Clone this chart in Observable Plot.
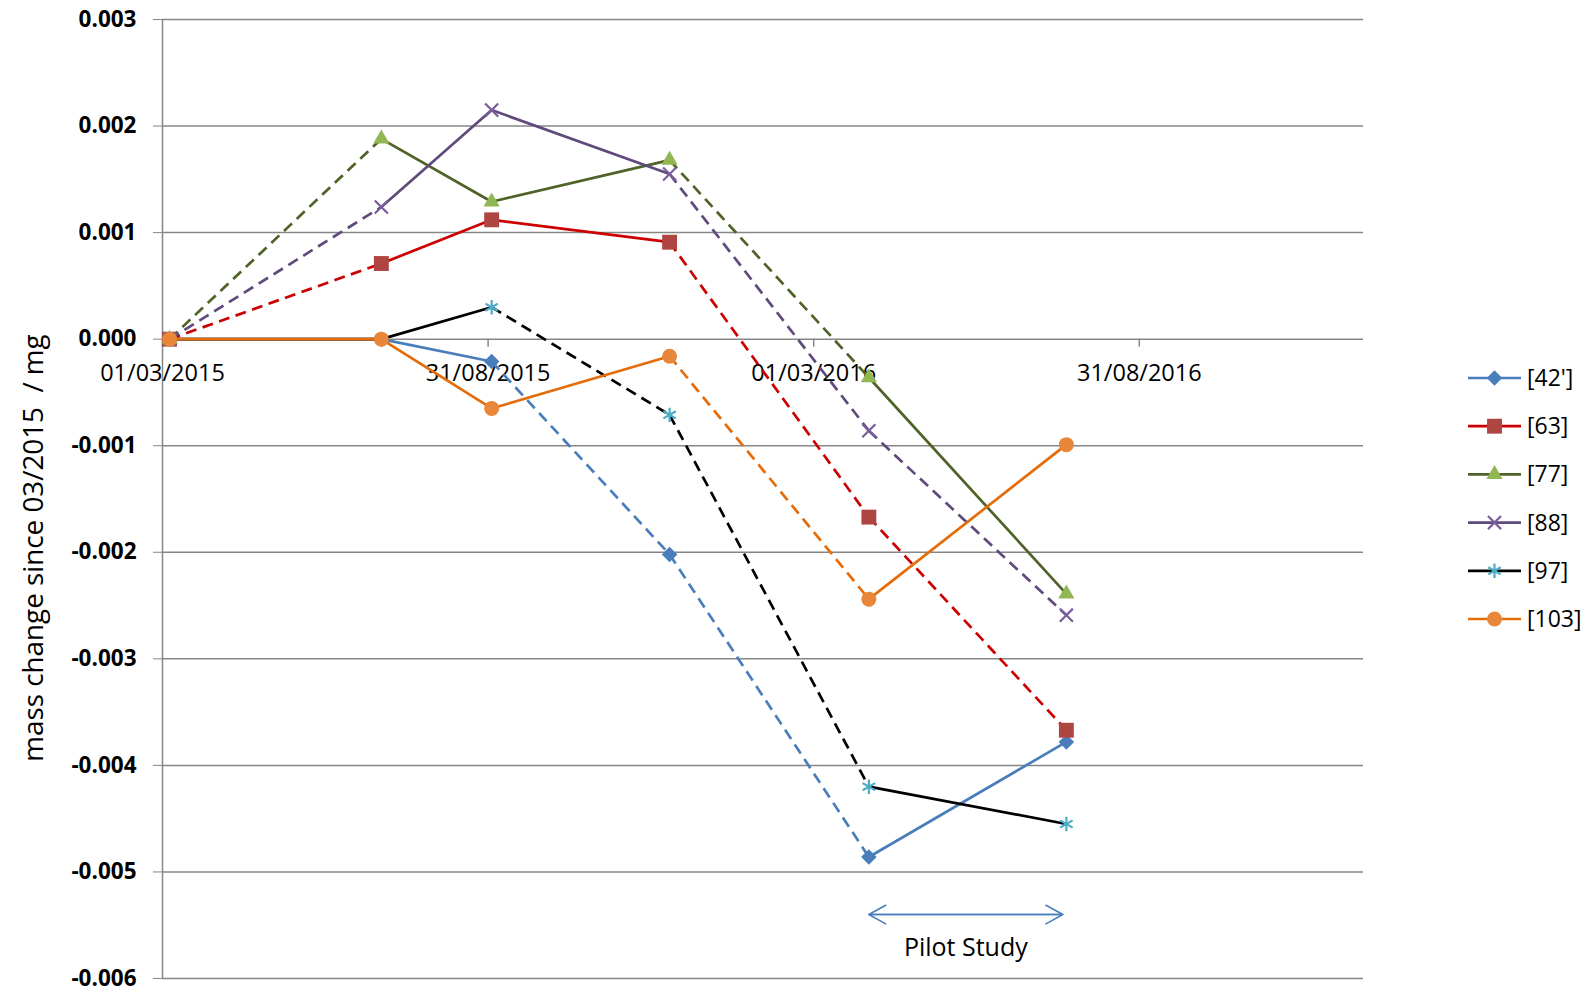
<!DOCTYPE html>
<html>
<head>
<meta charset="utf-8">
<script src="https://cdn.jsdelivr.net/npm/d3@7"></script>
<script src="https://cdn.jsdelivr.net/npm/@observablehq/plot@0.6"></script>
<style>
  html, body { margin: 0; padding: 0; background: #ffffff; }
  #chart { width: 1591px; height: 991px; overflow: hidden; }
  svg { overflow: visible; }
</style>
</head>
<body>
<div id="chart"></div>
<script>
// ---------- data ----------
const dates = ["2015-03-05", "2015-07-02", "2015-09-02", "2015-12-11", "2016-04-01", "2016-07-21"];
const seriesNames = ["[42']", "[63]", "[77]", "[88]", "[97]", "[103]"];
const s42 = [0, 0, -0.00021, -0.00202, -0.00486, -0.00378];
const s63 = [0, 0.00071, 0.00112, 0.00091, -0.00167, -0.00367];
const s77 = [0, 0.00188, 0.00129, 0.00168, -0.00036, -0.00239];
const s88 = [0, 0.00124, 0.00215, 0.00155, -0.00086, -0.00259];
const s97 = [0, 0, 0.0003, -0.00071, -0.0042, -0.00455];
const s103 = [0, 0, -0.00065, -0.00016, -0.00244, -0.00099];
// 1 = dashed segment between consecutive measurements
const dash42 = [0, 0, 1, 1, 0];
const dash63 = [1, 0, 0, 1, 1];
const dash77 = [1, 0, 0, 1, 0];
const dash88 = [1, 0, 0, 1, 1];
const dash97 = [0, 0, 1, 1, 0];
const dash103 = [0, 0, 0, 1, 0];

const yTicks = [0.003, 0.002, 0.001, 0, -0.001, -0.002, -0.003, -0.004, -0.005, -0.006];
const xTickLabels = ["01/03/2015", "31/08/2015", "01/03/2016", "31/08/2016"];
const xDomain = ["2015-03-01", "2017-01-04"];
const yLabel = "mass change since 03/2015\u00a0 / mg";
const pilotLabel = "Pilot Study";
const pilotSpan = ["2016-04-01", "2016-07-19"];
const pilotY = -0.0054;

// ---------- styles ----------
const lineColors = ["#4A7EBB", "#CC0000", "#4F6228", "#604A7B", "#000000", "#E46C0A"];
const markerColors = ["#4A7EBB", "#AE4541", "#93B655", "#7A5E9C", "#4BACC6", "#E8873A"];
const symbols = ["square", "square", "triangle", "times", "asterisk", "circle"];
const symbolR = [6.2, 8.4, 6.0, 6.0, 6.8, 7.5];
const symbolRotate = [45, 0, 0, 0, 0, 0];
const strokeSymbols = new Set(["times", "asterisk"]);
const allValues = [s42, s63, s77, s88, s97, s103];
const allDash = [dash42, dash63, dash77, dash88, dash97, dash103];

const parse = d3.utcParse("%Y-%m-%d");
const parseLabel = d3.utcParse("%d/%m/%Y");
const fmtLabel = d3.utcFormat("%d/%m/%Y");
const xDates = dates.map(parse);
const tickDates = xTickLabels.map(parseLabel);

const FONT = "'Open Sans', 'Noto Sans', sans-serif";
const GRID = "#868686";

const seriesMarks = [];
allValues.forEach((vals, s) => {
  const segs = [];
  for (let i = 0; i < vals.length - 1; i++) {
    segs.push({x1: xDates[i], y1: vals[i], x2: xDates[i + 1], y2: vals[i + 1], dashed: allDash[s][i] === 1});
  }
  seriesMarks.push(Plot.link(segs.filter(d => !d.dashed), {
    x1: "x1", y1: "y1", x2: "x2", y2: "y2",
    stroke: lineColors[s], strokeWidth: 2.7, strokeLinecap: "round"
  }));
  seriesMarks.push(Plot.link(segs.filter(d => d.dashed), {
    x1: "x1", y1: "y1", x2: "x2", y2: "y2",
    stroke: lineColors[s], strokeWidth: 2.7, strokeDasharray: "11,6.5", strokeLinecap: "butt"
  }));
  const pts = vals.map((v, i) => ({x: xDates[i], y: v}));
  const isStroke = strokeSymbols.has(symbols[s]);
  seriesMarks.push(Plot.dot(pts, {
    x: "x", y: "y", symbol: symbols[s], r: symbolR[s], rotate: symbolRotate[s],
    fill: isStroke ? "none" : markerColors[s],
    stroke: isStroke ? markerColors[s] : "none",
    strokeWidth: isStroke ? 2.2 : 0
  }));
});

const chart = Plot.plot({
  width: 1591,
  height: 991,
  marginLeft: 162,
  marginRight: 228,
  marginTop: 19,
  marginBottom: 13,
  style: {fontFamily: FONT, background: "#ffffff", color: "#000"},
  x: {type: "utc", domain: xDomain.map(parse), axis: null},
  y: {domain: [-0.006, 0.003], axis: null},
  marks: [
    Plot.gridY(yTicks, {stroke: GRID, strokeOpacity: 1, strokeWidth: 1.5}),
    Plot.ruleX([parse(xDomain[0])], {stroke: GRID, strokeWidth: 1.5}),
    Plot.axisY(yTicks, {
      tickFormat: d => d.toFixed(3), fontSize: 22.5, fontWeight: "bold",
      tickSize: 9, tickPadding: 17, stroke: GRID, fill: "#000", label: null
    }),
    Plot.ruleX(tickDates, {x: d => d, y1: 0, y2: 0, insetBottom: -8, stroke: GRID, strokeWidth: 1.5}),
    Plot.text(tickDates, {x: d => d, y: 0, dy: 34, text: d => fmtLabel(d), fontSize: 23.5, fill: "#000"}),
    ...seriesMarks,
    Plot.arrow([{a: pilotSpan[1], b: pilotSpan[0]}, {a: pilotSpan[0], b: pilotSpan[1]}], {
      x1: d => parse(d.a), x2: d => parse(d.b), y1: pilotY, y2: pilotY,
      stroke: "#4A7EBB", strokeWidth: 1.6, headLength: 18, headAngle: 58
    }),
    Plot.text([pilotLabel], {
      x: () => new Date((parse(pilotSpan[0]).getTime() + parse(pilotSpan[1]).getTime()) / 2),
      y: pilotY, dy: 33, text: d => d, fontSize: 25, fill: "#000"
    })
  ]
});

const svg = d3.select(chart);

// ---------- y axis title ----------
svg.append("text")
  .attr("transform", "translate(33,548) rotate(-90)")
  .attr("text-anchor", "middle")
  .attr("dy", "0.35em")
  .attr("font-family", FONT)
  .attr("font-size", 27.8)
  .attr("fill", "#000")
  .text(yLabel);

// ---------- legend (right side) ----------
const legend = svg.append("g").attr("font-family", FONT).attr("font-size", 23).attr("text-anchor", "start");
const legendTop = 378, legendStep = 48.2;
const symMap = {square: d3.symbolSquare, triangle: d3.symbolTriangle, times: d3.symbolTimes, asterisk: d3.symbolAsterisk, circle: d3.symbolCircle};
seriesNames.forEach((name, s) => {
  const g = legend.append("g").attr("transform", `translate(0,${legendTop + s * legendStep})`);
  g.append("line").attr("x1", 1468).attr("x2", 1521).attr("y1", 0).attr("y2", 0)
    .attr("stroke", lineColors[s]).attr("stroke-width", 2.7);
  const isStroke = strokeSymbols.has(symbols[s]);
  g.append("path")
    .attr("d", d3.symbol(symMap[symbols[s]], Math.PI * symbolR[s] * symbolR[s])())
    .attr("transform", `translate(1494.5,0) rotate(${symbolRotate[s]})`)
    .attr("fill", isStroke ? "none" : markerColors[s])
    .attr("stroke", isStroke ? markerColors[s] : "none")
    .attr("stroke-width", isStroke ? 2.2 : 0);
  g.append("text").attr("x", 1527).attr("y", 0).attr("dy", "0.35em").attr("fill", "#000").text(name);
});

document.getElementById("chart").appendChild(chart);
</script>
</body>
</html>
